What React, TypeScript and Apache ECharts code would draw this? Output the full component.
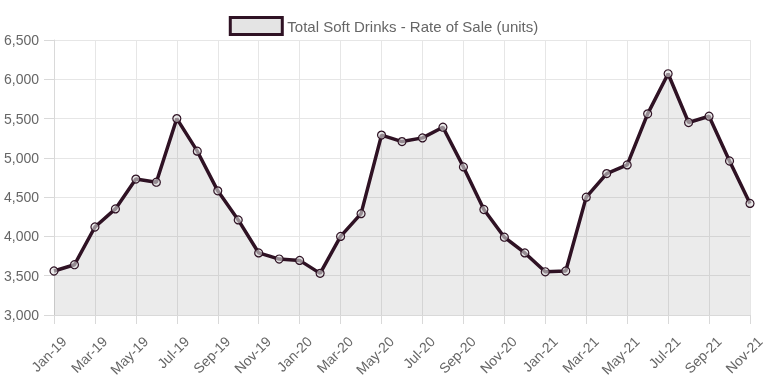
import React, { useEffect, useRef } from "react";
import * as echarts from "echarts";

const months = [
  "Jan-19", "Feb-19", "Mar-19", "Apr-19", "May-19", "Jun-19", "Jul-19", "Aug-19", "Sep-19", "Oct-19", "Nov-19", "Dec-19",
  "Jan-20", "Feb-20", "Mar-20", "Apr-20", "May-20", "Jun-20", "Jul-20", "Aug-20", "Sep-20", "Oct-20", "Nov-20", "Dec-20",
  "Jan-21", "Feb-21", "Mar-21", "Apr-21", "May-21", "Jun-21", "Jul-21", "Aug-21", "Sep-21", "Oct-21", "Nov-21",
];

const rateOfSale = [
  3560, 3640, 4120, 4350, 4730, 4690, 5500, 5085, 4580, 4210, 3790, 3712,
  3695, 3530, 4000, 4290, 5290, 5207, 5254, 5390, 4885, 4343, 3990, 3790,
  3550, 3560, 4500, 4800, 4910, 5560, 6070, 5450, 5530, 4960, 4420,
];

const seriesName = "Total Soft Drinks - Rate of Sale (units)";
const yMin = 3000;
const yMax = 6500;
const yStep = 500;

const LINE = "#2f1224";
const FONT = "'Liberation Sans', Arial, Helvetica, sans-serif";

export default function App() {
  const ref = useRef<HTMLDivElement>(null);
  useEffect(() => {
    if (!ref.current) return;
    const chart = echarts.init(ref.current, null, { renderer: "svg" });
    chart.setOption({
      animation: false,
      textStyle: { fontFamily: FONT },
      legend: {
        top: 11,
        left: "center",
        icon: "rect",
        itemWidth: 52,
        itemHeight: 17,
        itemStyle: { color: "#e4e4e4", borderColor: LINE, borderWidth: 3 },
        textStyle: { color: "#666", fontSize: 15, fontFamily: FONT },
        data: [seriesName],
      },
      grid: {
        left: 54,
        right: 17,
        top: 40,
        bottom: 68,
        containLabel: false,
        outerBoundsMode: "none",
      },
      xAxis: {
        type: "category",
        data: months,
        boundaryGap: false,
        axisLine: { show: true, lineStyle: { color: "#d9d9d9", width: 1 } },
        axisTick: { show: true, interval: 1, length: 9, lineStyle: { color: "#d9d9d9" } },
        splitLine: { show: true, interval: 1, lineStyle: { color: "#e6e6e6", width: 1 } },
        axisLabel: {
          interval: 1,
          rotate: 45,
          margin: 14,
          color: "#666",
          fontSize: 14,
          fontFamily: FONT,
          verticalAlign: "top",
          lineHeight: 28,
        },
      },
      yAxis: {
        type: "value",
        min: yMin,
        max: yMax,
        interval: yStep,
        axisLine: { show: true, lineStyle: { color: "#d9d9d9", width: 1 } },
        axisTick: { show: true, length: 10, lineStyle: { color: "#d9d9d9" } },
        splitLine: { show: true, lineStyle: { color: "#e6e6e6", width: 1 } },
        axisLabel: {
          margin: 15,
          color: "#666",
          fontSize: 14,
          fontFamily: FONT,
          formatter: (v: number) => v.toLocaleString("en-US"),
        },
      },
      series: [
        {
          name: seriesName,
          type: "line",
          data: rateOfSale,
          symbol: "circle",
          symbolSize: 8,
          showAllSymbol: true,
          lineStyle: { color: LINE, width: 3.5 },
          itemStyle: { color: "rgba(220,220,220,0.6)", borderColor: LINE, borderWidth: 1.2 },
          areaStyle: { color: "rgba(0,0,0,0.11)", origin: "start" },
          emphasis: { disabled: true },
        },
      ],
    });
    return () => chart.dispose();
  }, []);
  return (
    <div
      ref={ref}
      style={{ position: "fixed", left: 0, top: 0, width: 767, height: 383 }}
    />
  );
}
